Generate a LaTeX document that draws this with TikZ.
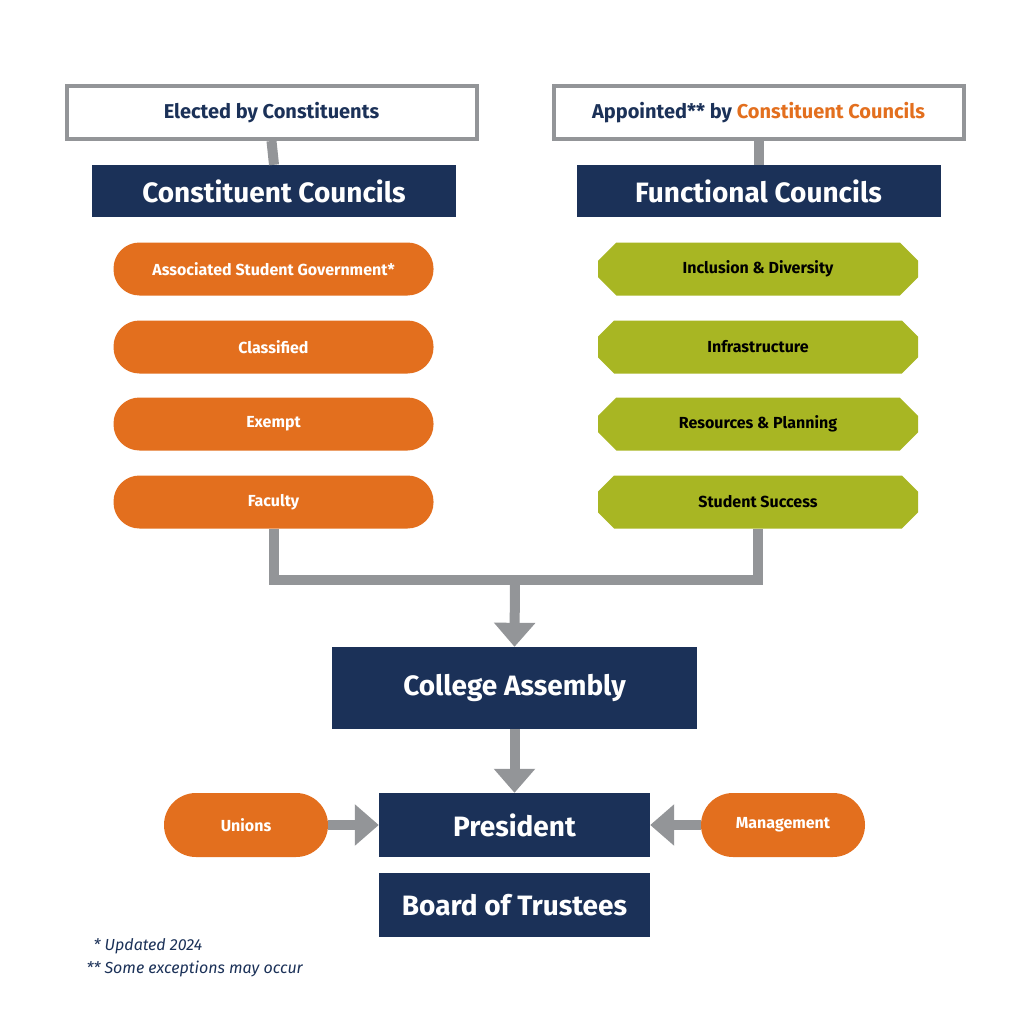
\documentclass[tikz,border=0pt]{standalone}
\usepackage{fontspec}
\setmainfont{Fira Sans}
\usetikzlibrary{arrows.meta,shapes.misc}
\definecolor{navy}{HTML}{1B3158}
\definecolor{orng}{HTML}{E36F1E}
\definecolor{grn}{HTML}{A8B623}
\definecolor{gry}{HTML}{939598}
\begin{document}
\begin{tikzpicture}[x=1pt,y=-1pt,
  topbox/.style={draw=gry,line width=4pt,fill=white,minimum width=410pt,minimum height=53pt,inner sep=0pt,font=\fontsize{20}{22}\selectfont\bfseries,text=navy},
  navybox/.style={fill=navy,text=white,inner sep=0pt,font=\bfseries},
  pill/.style={fill=orng,text=white,rounded corners=26pt,minimum width=320pt,minimum height=53pt,inner sep=0pt,font=\fontsize{16}{18}\selectfont\bfseries},
  chamf/.style={fill=grn,text=black,chamfered rectangle,chamfered rectangle xsep=10pt,chamfered rectangle ysep=10pt,minimum width=320pt,minimum height=53pt,inner sep=0pt,font=\fontsize{16}{18}\selectfont\bfseries},
  conn/.style={draw=gry,line width=10pt},
  arr/.style={draw=gry,line width=10pt,-{Triangle[width=40pt,length=24pt]}}]
\useasboundingbox[fill=white] (0,0) rectangle (1024,1024);
% top labels
\node[topbox] (el) at (271.5,112.5) {Elected by Constituents};
\node[topbox] (ap) at (758.5,112.5) {Appointed** by \textcolor{orng}{Constituent Councils}};
\node[navybox,minimum width=364pt,minimum height=52pt,font=\fontsize{28}{30}\selectfont\bfseries] (cc) at (274,191) {Constituent Councils};
\node[navybox,minimum width=364pt,minimum height=52pt,font=\fontsize{28}{30}\selectfont\bfseries] (fc) at (758.5,191) {Functional Councils};
\draw[conn] (el.south) -- (cc.north);
\draw[conn] (ap.south) -- (fc.north);
% pills
\node[pill] (p1) at (273.5,269) {Associated Student Government*};
\node[pill] (p2) at (273.5,347) {Classified};
\node[pill] (p3) at (273.5,424) {Exempt};
\node[pill] (p4) at (273.5,502) {Faculty};
\node[chamf] (g1) at (758,269) {Inclusion \& Diversity};
\node[chamf] (g2) at (758,347) {Infrastructure};
\node[chamf] (g3) at (758,424) {Resources \& Planning};
\node[chamf] (g4) at (758,502) {Student Success};
% assembly
\node[navybox,minimum width=365pt,minimum height=82pt,font=\fontsize{28}{30}\selectfont\bfseries] (ca) at (514.5,688) {College Assembly};
\node[navybox,minimum width=271pt,minimum height=64pt,font=\fontsize{28}{30}\selectfont\bfseries] (pr) at (514.5,825) {President};
\node[navybox,minimum width=271pt,minimum height=64pt,font=\fontsize{28}{30}\selectfont\bfseries] (bt) at (514.5,905) {Board of Trustees};
\node[pill,minimum width=164pt,minimum height=64pt,rounded corners=32pt] (un) at (246,825) {Unions};
\node[pill,minimum width=164pt,minimum height=64pt,rounded corners=32pt] (mg) at (783,825) {Management};
\coordinate (jn) at (515,580);
\draw[conn,line join=miter] (p4.south) -- (273.5,580) -- (758,580) -- (g4.south);
\draw[arr] (515,576) -- (ca.north);
\draw[arr] (ca.south) -- (pr.north);
\draw[arr] (un.east) -- (pr.west);
\draw[arr] (mg.west) -- (pr.east);
\node[anchor=west,text=navy,font=\fontsize{16}{18}\selectfont\itshape] (f1) at (90,946) {* Updated 2024};
\node[anchor=west,text=navy,font=\fontsize{16}{18}\selectfont\itshape] (f2) at (83,969) {** Some exceptions may occur};
\end{tikzpicture}
\end{document}
